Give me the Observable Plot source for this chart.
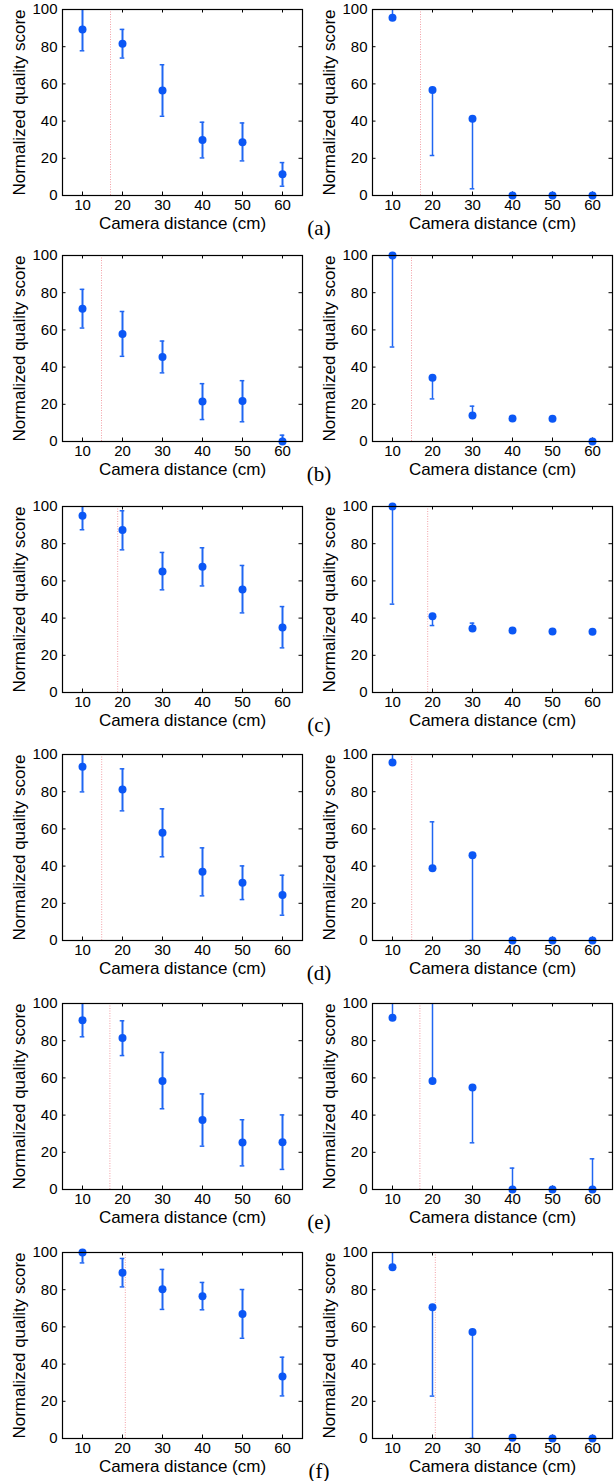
<!DOCTYPE html>
<html>
<head>
<meta charset="utf-8">
<script src="https://cdn.jsdelivr.net/npm/d3@7"></script>
<script src="https://cdn.jsdelivr.net/npm/@observablehq/plot@0.6"></script>
<style>
  html, body { margin: 0; padding: 0; background: #fff; }
  #wrap { position: relative; width: 614px; height: 1481px; overflow: hidden; }
  .panel { position: absolute; }
  .tag { position: absolute; font-family: "Liberation Serif", "DejaVu Serif", serif; font-size: 21px; color: #000; transform: translate(-50%, -50%); white-space: nowrap; }
</style>
</head>
<body>
<div id="wrap"></div>
<script>
// ---- data ----
const distances = [10, 20, 30, 40, 50, 60];
const xTicks = [10, 20, 30, 40, 50, 60];
const yTicks = [0, 20, 40, 60, 80, 100];
const panelTags = ["(a)", "(b)", "(c)", "(d)", "(e)", "(f)"];
const xLabel = "Camera distance (cm)";
const yLabel = "Normalized quality score";
const thresholds = [17, 14.75, 18.8, 14.8, 16.85, 20.7];

// left column: mean, lower, upper
const leftScore = [
  [89.3, 81.6, 56.4, 29.9, 28.6, 11.4],
  [71.4, 57.8, 45.4, 21.5, 21.8, 0],
  [95.0, 87.3, 65.1, 67.6, 55.4, 34.9],
  [93.4, 81.2, 57.9, 36.9, 31.0, 24.4],
  [91.0, 81.4, 58.4, 37.3, 25.3, 25.4],
  [100, 89.1, 80.3, 76.5, 67.0, 33.3]
];
const leftLow = [
  [77.8, 73.9, 42.6, 20.2, 18.6, 5.0],
  [61.0, 45.8, 36.9, 11.8, 10.6, -3.4],
  [87.5, 76.7, 55.2, 57.3, 42.8, 24.0],
  [79.9, 69.7, 45.0, 24.0, 22.0, 13.6],
  [82.1, 72.0, 43.4, 23.3, 12.7, 10.8],
  [94.4, 81.5, 69.4, 69.2, 53.9, 22.9]
];
const leftHigh = [
  [100.8, 89.3, 70.3, 39.4, 39.0, 17.7],
  [81.8, 69.9, 54.0, 31.1, 32.7, 3.4],
  [102.5, 97.7, 75.3, 77.8, 68.3, 46.2],
  [106.9, 92.3, 70.8, 49.8, 40.1, 35.1],
  [101.0, 90.7, 73.7, 51.4, 37.5, 40.1],
  [105.6, 96.8, 90.9, 83.9, 80.1, 43.7]
];

// right column: mean, lower, upper
const rightScore = [
  [95.5, 56.7, 41.3, 0, 0, 0],
  [100, 34.3, 14.0, 12.3, 12.2, 0],
  [100, 41.0, 34.4, 33.3, 32.8, 32.6],
  [95.7, 38.9, 45.9, 0, 0, 0],
  [92.3, 58.4, 54.8, 0, 0, 0],
  [92.1, 70.6, 57.3, 0.4, 0, 0]
];
const rightLow = [
  [95.5, 21.5, 3.6, 0, 0, 0],
  [50.8, 22.9, 14.0, 12.3, 12.2, 0],
  [47.5, 36.0, 34.4, 33.3, 32.8, 32.6],
  [95.7, 38.9, 0, 0, 0, 0],
  [92.3, 58.4, 25.1, 0, 0, 0],
  [92.1, 22.8, 0, 0.4, 0, 0]
];
const rightHigh = [
  [110, 56.7, 41.3, 0, 0, 0],
  [100, 34.3, 19.0, 12.3, 12.2, 0],
  [100, 41.0, 37.3, 33.3, 32.8, 32.6],
  [110, 63.8, 45.9, 0, 0, 0],
  [110, 110, 54.8, 11.5, 0, 16.5],
  [110, 70.6, 57.3, 0.4, 0, 0]
];

// ---- layout ----
const rowTops = [9.3, 255, 505.7, 754.3, 1003.3, 1251.7];
const frameH = 186, frameW = 240;
const mTop = 8, mBottom = 46, mLeft = 62;
const xDomain = [5, 65], yDomain = [0, 100];
const dotColor = "#0b57f5";
const barColor = "#1f66f2";
const wrap = document.getElementById("wrap");

function makePanel(score, low, high, threshold, svgWidth, barWidth) {
  const data = distances.map((x, i) => ({x, score: score[i], low: low[i], high: high[i]}));
  const bars = data.filter(d => d.high > d.low);
  const tickLen = 3.5;
  return Plot.plot({
    width: svgWidth,
    height: mTop + frameH + mBottom,
    marginTop: mTop,
    marginBottom: mBottom,
    marginLeft: mLeft,
    marginRight: svgWidth - mLeft - frameW,
    style: {fontFamily: "'Liberation Sans', Arial, Helvetica, sans-serif", fontSize: "15px", color: "#000", background: "transparent", overflow: "visible"},
    x: {domain: xDomain},
    y: {domain: yDomain},
    marks: [
      Plot.ruleX([threshold], {x: d => d, stroke: "#f2a0a6", strokeWidth: 1, strokeDasharray: "1,1.5"}),
      Plot.axisX({ticks: xTicks, tickSize: 0, tickPadding: 4, label: null, fontSize: 15}),
      Plot.axisY({ticks: yTicks, tickSize: 0, tickPadding: 5, label: null, fontSize: 15}),
      // inward ticks on all four sides
      Plot.tickX(xTicks, {x: d => d, insetTop: frameH - tickLen, stroke: "#000"}),
      Plot.tickX(xTicks, {x: d => d, insetBottom: frameH - tickLen, stroke: "#000"}),
      Plot.tickY(yTicks, {y: d => d, insetRight: frameW - tickLen, stroke: "#000"}),
      Plot.tickY(yTicks, {y: d => d, insetLeft: frameW - tickLen, stroke: "#000"}),
      // error bars
      Plot.ruleX(bars, {x: "x", y1: "low", y2: "high", stroke: barColor, strokeWidth: barWidth, clip: true}),
      Plot.ruleY(bars, {y: "low", x1: "x", x2: "x", insetLeft: -2.3, insetRight: -2.3, stroke: barColor, strokeWidth: 1.5, clip: true}),
      Plot.ruleY(bars, {y: "high", x1: "x", x2: "x", insetLeft: -2.3, insetRight: -2.3, stroke: barColor, strokeWidth: 1.5, clip: true}),
      Plot.dot(data, {x: "x", y: "score", r: 4, fill: dotColor, stroke: "none"}),
      Plot.frame({stroke: "#000", strokeWidth: 1.2}),
      Plot.text([xLabel], {text: d => d, x: (xDomain[0] + xDomain[1]) / 2, y: yDomain[0], lineAnchor: "top", dy: 21, fontSize: 17}),
      Plot.text([yLabel], {text: d => d, x: xDomain[0], y: (yDomain[0] + yDomain[1]) / 2, rotate: -90, textAnchor: "middle", lineAnchor: "middle", dx: -43.3, fontSize: 17})
    ]
  });
}

rowTops.forEach((top, r) => {
  const left = makePanel(leftScore[r], leftLow[r], leftHigh[r], thresholds[r], 310, 2);
  left.classList.add("panel");
  left.style.left = "0px";
  left.style.top = (top - mTop) + "px";
  wrap.appendChild(left);

  const right = makePanel(rightScore[r], rightLow[r], rightHigh[r], thresholds[r], 304, 1.5);
  right.classList.add("panel");
  right.style.left = "310px";
  right.style.top = (top - mTop) + "px";
  wrap.appendChild(right);

  const tag = document.createElement("div");
  tag.className = "tag";
  tag.textContent = panelTags[r];
  tag.style.left = "319px";
  tag.style.top = (top + 219) + "px";
  wrap.appendChild(tag);
});
</script>
</body>
</html>
